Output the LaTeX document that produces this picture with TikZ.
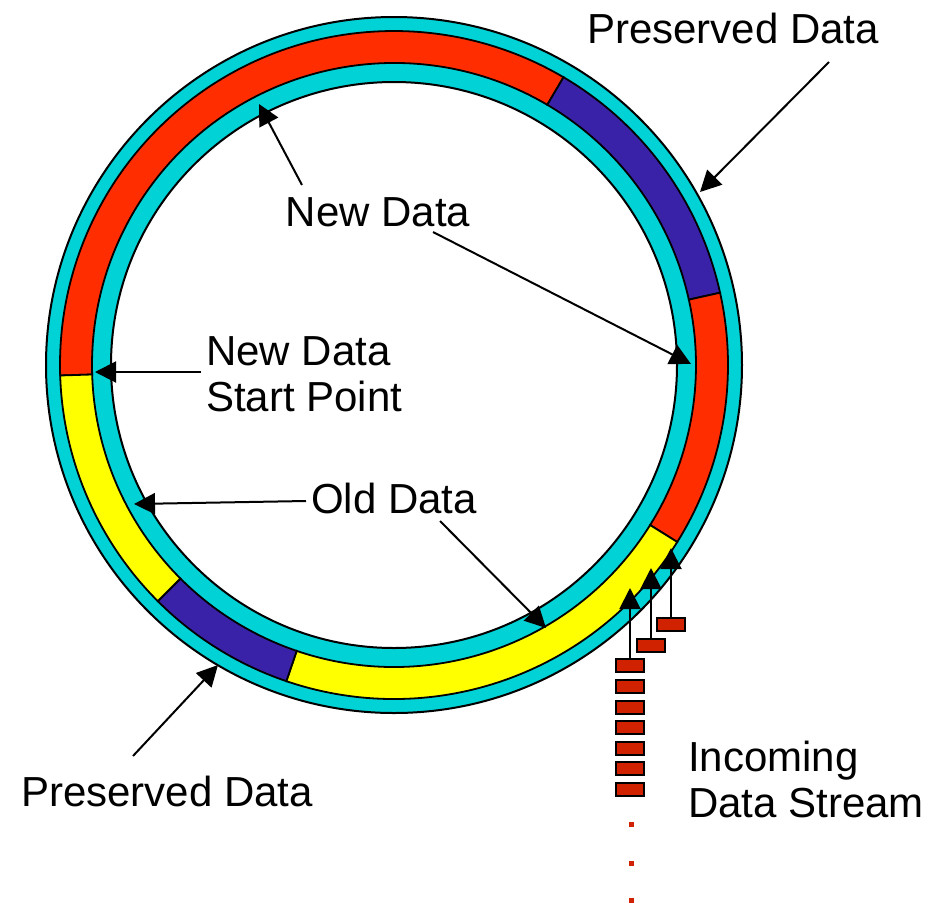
\documentclass[tikz,border=0pt]{standalone}
\usepackage{fontspec}
\setmainfont{Liberation Sans}
\usetikzlibrary{arrows.meta}
\definecolor{ringcyan}{RGB}{0,210,214}
\definecolor{segred}{RGB}{255,45,0}
\definecolor{segblue}{RGB}{58,34,168}
\definecolor{segyellow}{RGB}{255,255,0}
\definecolor{boxred}{RGB}{208,34,0}
\begin{document}
\begin{tikzpicture}[x=1pt,y=-1pt,
  lbl/.style={font=\fontsize{42}{46}\selectfont, inner sep=0pt},
  pointer/.style={line width=2pt, -{Triangle[length=21pt,width=21pt]}},
  packet/.style={draw=black, line width=2pt, fill=boxred, minimum width=28pt, minimum height=13pt, inner sep=0pt},
  seg/.style={draw=black, line width=1.8pt},
  dotbox/.style={fill=boxred}
]
\useasboundingbox (0,0) rectangle (946,903);
\fill[white] (0,0) rectangle (946,903);

% ring
\begin{scope}[shift={(394,365)}]
  \fill[ringcyan, even odd rule] (0,0) circle[radius=348] (0,0) circle[radius=283];
  % segments: image angles (clockwise on screen)
  \filldraw[seg, fill=segred]    (-181.8:334) arc[start angle=-181.8, end angle=-59.5, radius=334] -- (-59.5:302) arc[start angle=-59.5, end angle=-181.8, radius=302] -- cycle;
  \filldraw[seg, fill=segblue]   (-59.5:334) arc[start angle=-59.5, end angle=-12.5, radius=334] -- (-12.5:302) arc[start angle=-12.5, end angle=-59.5, radius=302] -- cycle;
  \filldraw[seg, fill=segred]    (-12.5:334) arc[start angle=-12.5, end angle=32, radius=334] -- (32:302) arc[start angle=32, end angle=-12.5, radius=302] -- cycle;
  \filldraw[seg, fill=segyellow] (32:334) arc[start angle=32, end angle=108.8, radius=334] -- (108.8:302) arc[start angle=108.8, end angle=32, radius=302] -- cycle;
  \filldraw[seg, fill=segblue]   (108.8:334) arc[start angle=108.8, end angle=135, radius=334] -- (135:302) arc[start angle=135, end angle=108.8, radius=302] -- cycle;
  \filldraw[seg, fill=segyellow] (135:334) arc[start angle=135, end angle=178.2, radius=334] -- (178.2:302) arc[start angle=178.2, end angle=135, radius=302] -- cycle;
  \draw[line width=2pt] (0,0) circle[radius=348];
  \draw[line width=2pt] (0,0) circle[radius=283];
\end{scope}

% labels
\node[lbl, anchor=base] (pdTop) at (733,43) {Preserved Data};
\node[lbl, anchor=base] (newTop) at (378,226) {New Data};
\node[lbl, anchor=base west, align=left] (startPt) at (206,411) {New Data\\Start Point};
\node[lbl, anchor=base] (oldData) at (394,513) {Old Data};
\node[lbl, anchor=base] (pdBot) at (167,806) {Preserved Data};
\node[lbl, anchor=base west, align=left] (incoming) at (688,817) {Incoming\\Data Stream};

% pointer coordinates
\coordinate (pdTopTail) at (829,62);
\coordinate (pdTopTip) at (700,192);
\coordinate (newUpTail) at (302,185);
\coordinate (newUpTip) at (259,104);
\coordinate (newDnTail) at (433,232);
\coordinate (newDnTip) at (691,364);
\coordinate (startTail) at (201,372);
\coordinate (startTip) at (95,372);
\coordinate (oldLTail) at (306,501);
\coordinate (oldLTip) at (134,504);
\coordinate (oldRTail) at (440,521);
\coordinate (oldRTip) at (546,628);
\coordinate (pdBotTail) at (133,756);
\coordinate (pdBotTip) at (218,665);

\draw[pointer] (pdTopTail) -- (pdTopTip);
\draw[pointer] (newUpTail) -- (newUpTip);
\draw[pointer] (newDnTail) -- (newDnTip);
\draw[pointer] (startTail) -- (startTip);
\draw[pointer] (oldLTail) -- (oldLTip);
\draw[pointer] (oldRTail) -- (oldRTip);
\draw[pointer] (pdBotTail) -- (pdBotTip);

% incoming packets
\node[packet] (p1) at (630,665.5) {};
\node[packet] (p2) at (651,645) {};
\node[packet] (p3) at (671,624.5) {};
\node[packet] (p4) at (630,686.5) {};
\node[packet] (p5) at (630,707) {};
\node[packet] (p6) at (630,727.5) {};
\node[packet] (p7) at (630,748) {};
\node[packet] (p8) at (630,768.5) {};
\node[packet] (p9) at (630,789.5) {};

\coordinate (t1) at (630,588);
\coordinate (t2) at (651,568);
\coordinate (t3) at (671,548);
\draw[pointer] (p1.north) -- (t1);
\draw[pointer] (p2.north) -- (t2);
\draw[pointer] (p3.north) -- (t3);

% trailing dots
\fill[dotbox] (628.5,821.5) rectangle ++(5,5);
\fill[dotbox] (628.5,860.5) rectangle ++(5,5);
\fill[dotbox] (628.5,898) rectangle ++(5,5);
\end{tikzpicture}
\end{document}
